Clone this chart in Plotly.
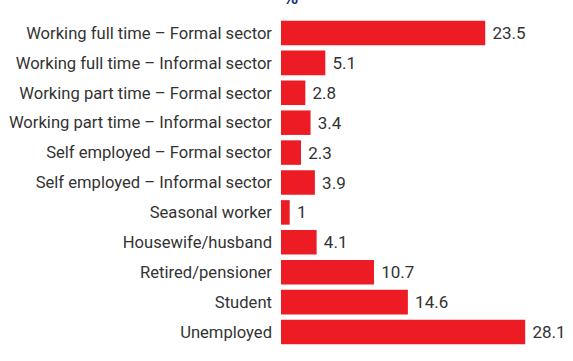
import plotly.graph_objects as go

categories = [
    "Working full time – Formal sector",
    "Working full time – Informal sector",
    "Working part time – Formal sector",
    "Working part time – Informal sector",
    "Self employed – Formal sector",
    "Self employed – Informal sector",
    "Seasonal worker",
    "Housewife/husband",
    "Retired/pensioner",
    "Student",
    "Unemployed",
]
values = [23.5, 5.1, 2.8, 3.4, 2.3, 3.9, 1, 4.1, 10.7, 14.6, 28.1]
value_labels = ["23.5", "5.1", "2.8", "3.4", "2.3", "3.9", "1", "4.1", "10.7", "14.6", "28.1"]

fig = go.Figure(go.Bar(
    y=categories, x=values, orientation="h",
    marker=dict(color="#ED1C24", line=dict(width=0)),
    text=[" " + t for t in value_labels], textposition="outside",
    textfont=dict(family="Roboto", size=17, color="#333333"),
    cliponaxis=False,
))

fig.update_layout(
    width=573, height=361,
    margin=dict(l=281, r=0, t=18, b=14),
    paper_bgcolor="white", plot_bgcolor="white",
    bargap=0.18, showlegend=False,
    xaxis=dict(range=[0, 33.6], visible=False),
    yaxis=dict(autorange="reversed", showgrid=False, zeroline=False, showline=False,
               ticks="", ticklabelstandoff=8,
               tickfont=dict(family="Roboto", size=16.6, color="#333333")),
    annotations=[dict(text="<b>%</b>", xref="paper", yref="paper", x=0, y=1.025,
                      xanchor="left", yanchor="bottom", showarrow=False,
                      font=dict(family="DejaVu Sans", size=15, color="#1B2F6E"))],
)

fig.write_html("out.html")
